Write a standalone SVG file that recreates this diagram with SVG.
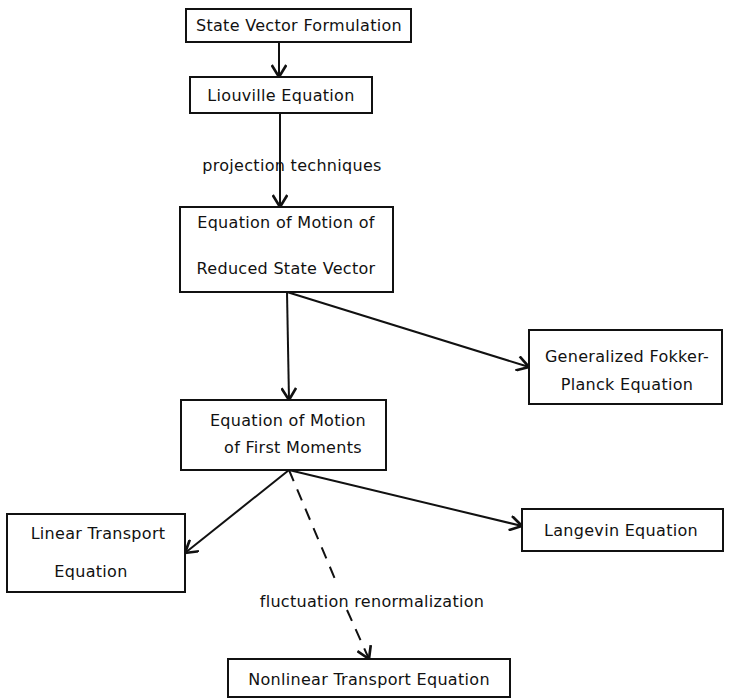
<svg xmlns="http://www.w3.org/2000/svg" width="740" height="700" viewBox="0 0 740 700">
<style>
.box{fill:#fff;stroke:#111;stroke-width:2}
.t{font-family:"DejaVu Sans","Liberation Sans",sans-serif;font-size:16px;letter-spacing:0.3px;fill:#111;text-anchor:middle}
.c{stroke:#111;stroke-width:2;fill:none}
.d{stroke-dasharray:12,9}
</style>
<defs>
<marker id="ah" markerUnits="userSpaceOnUse" markerWidth="16" markerHeight="16" refX="10" refY="6" orient="auto" viewBox="0 0 12 12">
<path d="M1,0.5 L10,6 L1,11.5" fill="none" stroke="#111" stroke-width="2"/>
</marker>
</defs>
<rect width="740" height="700" fill="#fff"/>
<g id="connectors">
<line class="c" x1="279" y1="42" x2="279" y2="77" marker-end="url(#ah)"/>
<line class="c" x1="280" y1="113" x2="280" y2="207" marker-end="url(#ah)"/>
<line class="c" x1="287" y1="292" x2="289" y2="400" marker-end="url(#ah)"/>
<line class="c" x1="287" y1="292" x2="529" y2="367" marker-end="url(#ah)"/>
<line class="c" x1="289" y1="470" x2="185" y2="553" marker-end="url(#ah)"/>
<line class="c" x1="289" y1="470" x2="522" y2="526" marker-end="url(#ah)"/>
<line class="c d" x1="289" y1="470" x2="335" y2="579"/>
<line class="c d" x1="347" y1="610" x2="369" y2="659" marker-end="url(#ah)"/>
<text class="t" x="292" y="171">projection techniques</text>
<text class="t" x="372" y="607">fluctuation renormalization</text>
</g>
<g id="n1"><rect class="box" x="186" y="9" width="225" height="33"/><text class="t" x="299" y="31">State Vector Formulation</text></g>
<g id="n2"><rect class="box" x="190" y="77" width="182" height="36"/><text class="t" x="281" y="101">Liouville Equation</text></g>
<g id="n3"><rect class="box" x="180" y="207" width="213" height="85"/><text class="t" x="286" y="228">Equation of Motion of</text><text class="t" x="286" y="274">Reduced State Vector</text></g>
<g id="n4"><rect class="box" x="529" y="330" width="193" height="74"/><text class="t" x="627" y="362">Generalized Fokker-</text><text class="t" x="627" y="390">Planck Equation</text></g>
<g id="n5"><rect class="box" x="181" y="400" width="205" height="70"/><text class="t" x="288" y="426">Equation of Motion</text><text class="t" x="293" y="453">of First Moments</text></g>
<g id="n6"><rect class="box" x="7" y="514" width="178" height="78"/><text class="t" x="98" y="539">Linear Transport</text><text class="t" x="91" y="577">Equation</text></g>
<g id="n7"><rect class="box" x="522" y="509" width="201" height="42"/><text class="t" x="621" y="536">Langevin Equation</text></g>
<g id="n8"><rect class="box" x="228" y="659" width="282" height="38"/><text class="t" x="369" y="685">Nonlinear Transport Equation</text></g>
</svg>
